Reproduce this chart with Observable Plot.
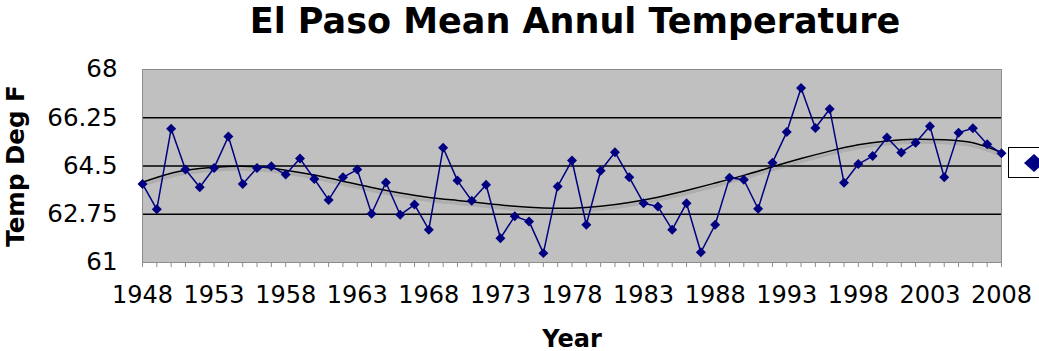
<!DOCTYPE html>
<html>
<head>
<meta charset="utf-8">
<script src="https://cdn.jsdelivr.net/npm/d3@7"></script>
<script src="https://cdn.jsdelivr.net/npm/@observablehq/plot@0.6"></script>
<style>
  html, body { margin: 0; padding: 0; background: #fff; overflow: hidden; }
  #wrap { position: relative; width: 1039px; height: 351px; font-family: "DejaVu Sans", Verdana, sans-serif; }
  #title { position: relative; height: 40px; }
  #title span { position: absolute; left: 575px; top: 4px; transform: translateX(-50%); white-space: nowrap;
    font: bold 35px/34px "DejaVu Sans", sans-serif; color: #000; }
  #legend { position: absolute; left: 1008px; top: 147px; width: 80px; height: 31px; background: #fff;
    border: 1px solid #000; box-sizing: border-box; }
  #legend svg { position: absolute; left: 0; top: 0; }
</style>
</head>
<body>
<div id="wrap">
  <div id="title"><span>El Paso Mean Annul Temperature</span></div>
  <div id="chart"></div>
  <div id="legend"><svg width="80" height="30"><path d="M15,15 L25,6 L35,15 L25,24 Z" fill="#000080"/></svg></div>
</div>
<script>
const years = [1948,1949,1950,1951,1952,1953,1954,1955,1956,1957,
  1958,1959,1960,1961,1962,1963,1964,1965,1966,1967,
  1968,1969,1970,1971,1972,1973,1974,1975,1976,1977,
  1978,1979,1980,1981,1982,1983,1984,1985,1986,1987,
  1988,1989,1990,1991,1992,1993,1994,1995,1996,1997,
  1998,1999,2000,2001,2002,2003,2004,2005,2006,2007,2008];
const temps = [63.85,62.93,65.85,64.37,63.73,64.43,65.57,63.85,64.43,64.49,
  64.19,64.77,64.03,63.27,64.09,64.37,62.77,63.90,62.73,63.10,
  62.19,65.16,63.97,63.24,63.82,61.88,62.68,62.49,61.34,63.76,
  64.70,62.37,64.33,65.00,64.09,63.15,63.03,62.19,63.15,61.37,
  62.37,64.07,64.00,62.95,64.62,65.73,67.33,65.88,66.57,63.89,
  64.57,64.86,65.53,64.99,65.34,65.94,64.09,65.71,65.87,65.29,64.96];
const trendYears = [1948,1950,1952,1954,1956,1958,1960,1962,1964,1966,1968,1970,1972,1974,1976,1978,
  1980,1982,1984,1986,1988,1990,1992,1994,1996,1998,2000,2002,2004,2006,2008];
const trendValues = [63.91,64.24,64.41,64.48,64.47,64.35,64.17,63.95,63.72,63.52,63.36,63.25,63.14,63.04,62.98,62.97,
  63.04,63.18,63.37,63.61,63.88,64.16,64.47,64.77,65.04,65.27,65.41,65.47,65.45,65.34,64.99];
const xTicks = [1948,1953,1958,1963,1968,1973,1978,1983,1988,1993,1998,2003,2008];
const yTicks = [61,62.75,64.5,66.25,68];
const gridValues = [62.75,64.5,66.25];
const xTitle = "Year";
const yTitle = "Temp Deg F";

const series = years.map((y, i) => ({year: y, temp: temps[i]}));
const trend = trendYears.map((y, i) => ({year: y, temp: trendValues[i]}));

const chart = Plot.plot({
  width: 1039,
  height: 311,
  marginTop: 29,
  marginBottom: 89,
  marginLeft: 142,
  marginRight: 38,
  style: {fontFamily: "'DejaVu Sans', Verdana, sans-serif", background: "transparent", overflow: "visible"},
  x: {domain: [1948, 2008]},
  y: {domain: [61, 68]},
  marks: [
    Plot.frame({fill: "#c0c0c0"}),
    Plot.ruleY(gridValues, {stroke: "#000", strokeWidth: 1.5}),
    Plot.frame({stroke: "#8c8c8c", strokeWidth: 1}),
    Plot.axisY(yTicks, {tickSize: 0, tickPadding: 25, fontSize: 24.5, tickFormat: d => String(d), label: null}),
    Plot.axisX(years, {tickSize: 5, stroke: "#8c8c8c", tickFormat: () => "", label: null}),
    Plot.axisX(xTicks, {tickSize: 0, tickPadding: 23, fontSize: 24, tickFormat: d => String(d), label: null}),
    Plot.text([xTitle], {text: d => d, frameAnchor: "bottom", lineAnchor: "bottom", dy: 84, fontSize: 24, fontWeight: "bold", fill: "#000"}),
    Plot.text([yTitle], {text: d => d, frameAnchor: "left", textAnchor: "middle", rotate: -90, lineAnchor: "middle", dx: -126, fontSize: 24.5, fontWeight: "bold", fill: "#000"}),
    Plot.line(trend, {x: "year", y: "temp", curve: "natural", dy: 3, stroke: "#777", strokeWidth: 3, strokeOpacity: 0.25}),
    Plot.line(trend, {x: "year", y: "temp", curve: "natural", stroke: "#000", strokeWidth: 1.5}),
    Plot.line(series, {x: "year", y: "temp", stroke: "#000080", strokeWidth: 1.5}),
    Plot.dot(series, {x: "year", y: "temp", symbol: "diamond2", r: 4.5, fill: "#000080", stroke: "none"})
  ]
});
document.getElementById("chart").appendChild(chart);
</script>
</body>
</html>
